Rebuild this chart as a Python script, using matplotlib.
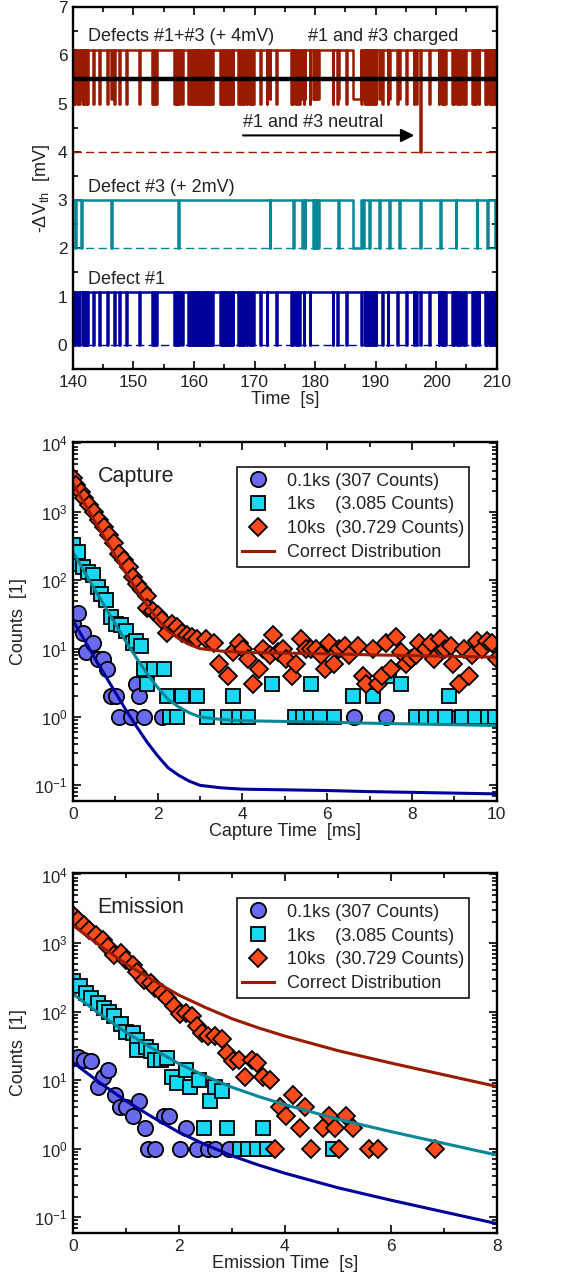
import numpy as np
import matplotlib.pyplot as plt
from matplotlib.ticker import MultipleLocator, LogLocator, NullFormatter

plt.rcParams['font.family'] = ['Liberation Sans', 'DejaVu Sans']
plt.rcParams['mathtext.fontset'] = 'custom'
plt.rcParams['mathtext.rm'] = 'Liberation Sans'
plt.rcParams['mathtext.it'] = 'Liberation Sans:italic'
plt.rcParams['mathtext.bf'] = 'Liberation Sans:bold'
plt.rcParams['text.color'] = '#222222'
plt.rcParams['axes.labelcolor'] = '#222222'

# ---------------- RTN traces (top) ----------------
T_START, T_END = 140.0, 210.0
D1_STEP, D3_STEP = 1.1, 1.0          # step heights [mV]
D3_OFFSET, SUM_OFFSET = 2.0, 4.0     # vertical offsets used for display
THRESHOLD = 5.5
D1_DWELL = 0.12                      # typical neutral dwell of defect #1 [s]

# defect #1 goes neutral at these times
d1_starts = [140.1, 140.25, 140.7, 141.0, 141.6, 141.8, 142.1, 142.4,
             143.3, 144.4, 145.7, 146.8, 147.7, 148.8, 150.9,
             153.1, 153.4, 153.7,
             156.7, 157.0, 157.2, 157.6, 158.0,
             159.1, 159.4, 159.7, 160.0, 160.3, 160.6, 160.9, 161.2, 161.5,
             161.8, 162.1, 162.4, 162.7, 163.0,
             164.3, 164.6, 164.9, 165.2, 165.5, 165.8, 166.1, 166.4,
             167.3, 167.6, 167.9, 168.3, 168.7, 169.1, 169.5, 169.8,
             170.9, 172.0, 173.6,
             176.1, 176.25, 176.7, 177.0, 177.4,
             178.1, 179.1, 182.9, 183.6, 185.1,
             187.65, 188.2, 188.5, 188.75, 189.1, 189.4, 189.7, 190.0,
             191.1, 192.0, 193.6, 195.0, 196.3, 196.7, 197.3, 198.8,
             200.4, 200.9, 201.2, 201.5,
             202.6, 202.9, 203.4, 203.6, 204.0, 204.4, 204.8,
             205.9, 206.3, 206.5, 207.0,
             208.1, 208.25, 208.7, 209.0, 209.3, 209.55, 209.9]

# defect #3 neutral intervals
d3_starts = [140.4, 141.4, 146.3, 157.4, 172.5, 176.4, 177.9, 178.3, 179.6, 179.9,
             180.2, 180.5, 183.8, 186.3, 187.9, 188.9, 190.6, 192.2, 193.9, 197.3,
             200.7, 203.2, 206.7, 208.4, 209.7]
d3_ends = [140.52, 141.52, 146.42, 157.52, 172.62, 176.52, 178.02, 178.42, 179.75, 180.05,
           180.35, 180.65, 183.92, 187.6, 188.02, 189.02, 190.72, 192.32, 194.02, 197.42,
           200.82, 203.32, 206.82, 208.52, 209.82]

# ---------------- capture / emission histograms ----------------
cap_c_x = [0.0, 0.13, 0.23, 0.31, 0.47, 0.59, 0.70, 0.80, 0.90, 1.02, 1.09, 1.37, 1.48,
           1.56, 1.68, 2.11, 6.64, 7.38, 8.87, 9.53]
cap_c_y = [23, 33, 17, 9, 12, 7, 7, 5, 2, 2, 1, 1, 3, 2, 1, 1, 1, 1, 1, 1]

cap_s_x = [0.0, 0.08, 0.12, 0.23, 0.35, 0.47, 0.59, 0.66, 0.78, 0.90, 1.02, 1.13, 1.25,
           1.41, 1.50, 1.60, 1.68, 1.76, 1.91, 2.15, 2.23, 2.58, 2.93, 3.79, 4.69, 5.63,
           6.60, 7.07, 7.46, 7.73, 8.87,
           2.30, 2.46, 3.16, 3.67, 3.91, 4.14, 5.23, 5.43, 5.63, 5.82, 6.17, 8.09, 8.32,
           8.55, 8.79, 9.18, 9.49, 9.80, 9.96]
cap_s_y = [324, 175, 260, 157, 133, 118, 80, 63, 51, 29, 23, 22, 18, 12, 13, 11, 5, 3,
           5, 5, 2, 2, 2, 2, 3, 3, 2, 2, 4, 3, 2,
           1, 1, 1, 1, 1, 1, 1, 1, 1, 1, 1, 1, 1, 1, 1, 1, 1, 1, 1]

cap_d_x = [0.0, 0.08, 0.20, 0.27, 0.39, 0.51, 0.62, 0.74, 0.86, 0.98, 1.09, 1.21, 1.33,
           1.41, 1.52, 1.64, 1.76, 1.76, 1.88, 2.00, 2.10, 2.23, 2.34, 2.46, 2.58, 2.70,
           2.81, 2.93, 3.13, 3.32, 3.44, 3.67, 3.79, 3.91, 4.02, 4.14, 4.26, 4.38, 4.49,
           4.65, 4.73, 4.84, 4.96, 5.04, 5.16, 5.27, 5.39, 5.51, 5.63, 5.74, 5.86, 5.94,
           6.05, 6.17, 6.29, 6.41, 6.52, 6.72, 6.84, 6.91, 7.07, 7.19, 7.30, 7.38, 7.50,
           7.62, 7.73, 7.85, 7.97, 8.09, 8.16, 8.32, 8.44, 8.52, 8.67, 8.79, 8.91, 8.98,
           9.10, 9.22, 9.34, 9.41, 9.53, 9.65, 9.77, 9.88, 10.0]
cap_d_y = [3090, 2455, 1950, 1585, 1260, 1000, 760, 600, 457, 347, 245, 195, 158,
           112, 89, 71, 58, 39, 36, 31, 26, 17, 23, 21, 17, 16,
           15, 14, 14, 12, 6, 4, 9, 12, 10, 7, 3, 5, 10,
           8, 16, 9, 10, 7, 4, 6, 14, 10, 10, 10, 8, 5,
           12, 6, 10, 11, 8, 11, 4, 3, 10, 3, 4, 12, 5,
           15, 9, 6, 7, 8, 12, 10, 12, 7, 14, 10, 11, 6,
           3, 10, 4, 8, 13, 10, 13, 12, 7]

cap_fit_x = [0, 0.5, 1, 1.25, 1.5, 1.75, 2, 2.25, 2.5, 2.75, 3, 3.5, 4, 5, 6, 7, 8, 9, 10]
cap_fit_01 = [26, 7.6, 2.3, 1.27, 0.73, 0.43, 0.27, 0.18, 0.14, 0.115, 0.10, 0.092,
              0.088, 0.086, 0.084, 0.081, 0.079, 0.077, 0.075]
cap_fit_1 = [260, 76, 23, 12.7, 7.3, 4.3, 2.7, 1.8, 1.4, 1.15, 1.0, 0.92,
             0.88, 0.86, 0.84, 0.81, 0.79, 0.77, 0.75]
cap_fit_10 = [2600, 760, 230, 127, 73, 43, 27, 18, 14, 11.5, 10, 9.2,
              8.8, 8.6, 8.4, 8.1, 7.9, 7.7, 7.5]

em_c_x = [0.0, 0.10, 0.22, 0.34, 0.47, 0.56, 0.67, 0.79, 0.89, 1.00, 1.14, 1.25, 1.36,
          1.41, 1.56, 1.72, 1.81, 2.03, 2.13, 2.34, 2.56, 2.69, 2.94]
em_c_y = [21, 22, 20, 19, 8, 11, 14, 6, 4, 4, 3, 5, 2, 1, 1, 3, 3, 1, 2, 1, 1, 1, 1]

em_s_x = [0.0, 0.13, 0.25, 0.34, 0.47, 0.59, 0.69, 0.78, 0.91, 1.00, 1.13, 1.22, 1.22,
          1.38, 1.47, 1.56, 1.66, 1.78, 1.88, 1.97, 2.13, 2.22, 2.38, 2.47, 2.59, 2.69,
          2.81, 2.91, 3.16, 3.31, 3.47, 3.59, 3.66, 4.91]
em_s_y = [275, 234, 186, 158, 135, 112, 100, 85, 65, 51, 49, 39, 28, 30, 27, 20, 20, 21,
          11, 9, 14, 8, 10, 2, 5, 8, 7, 2, 1, 1, 1, 2, 1, 1]

em_d_x = [0.0, 0.09, 0.22, 0.31, 0.44, 0.56, 0.66, 0.78, 0.91, 1.00, 1.13, 1.22, 1.34,
          1.47, 1.56, 1.69, 1.78, 1.91, 2.03, 2.13, 2.25, 2.34, 2.44, 2.56, 2.69, 2.81,
          2.91, 3.03, 3.13, 3.25, 3.38, 3.47, 3.59, 3.72, 3.81, 3.91, 4.03, 4.16, 4.28,
          4.38, 4.50, 4.72, 4.84, 4.94, 5.03, 5.16, 5.28, 5.59, 5.75, 6.84]
em_d_y = [2570, 2140, 1820, 1550, 1320, 1100, 890, 675, 710, 560, 480, 380, 290, 263,
          219, 186, 158, 120, 91, 95, 85, 62, 49, 44, 44, 40, 25, 19, 20, 11, 20, 18,
          11, 10, 1, 4, 3, 6, 2, 4, 1, 2, 3, 2, 1, 3, 2, 1, 1, 1]

em_fit_x = [0, 0.5, 1, 1.5, 2, 2.5, 3, 3.5, 4, 5, 6, 7, 8]
em_fit_01 = [18.2, 9.3, 5.0, 2.9, 1.74, 1.15, 0.79, 0.58, 0.44, 0.27, 0.178, 0.12, 0.081]
em_fit_1 = [182, 93, 50, 29, 17.4, 11.5, 7.9, 5.8, 4.4, 2.7, 1.78, 1.2, 0.81]
em_fit_10 = [1820, 930, 500, 290, 174, 115, 79, 58, 44, 27, 17.8, 12, 8.1]

labels = ['0.1ks (307 Counts)', '1ks    (3.085 Counts)', '10ks  (30.729 Counts)']

C_BLUE, C_TEAL, C_RED = '#00009a', '#0a8797', '#981b00'
F_CIRC, F_SQ, F_DIA = '#6a6aee', '#19d8f4', '#ff4a1c'


def charged(t, starts, ends):
    s = np.asarray(starts)[None, :]
    e = np.asarray(ends)[None, :]
    inside = ((t[:, None] >= s) & (t[:, None] < e)).any(axis=1)
    return ~inside


def style_axes(ax):
    ax.tick_params(which='both', direction='in', top=True, right=True,
                   labelsize=12.5, width=1.2, colors='black', labelcolor='#222222')
    ax.tick_params(which='major', length=6, pad=4)
    ax.tick_params(which='minor', length=3.5)
    for sp in ax.spines.values():
        sp.set_linewidth(1.7)


fig = plt.figure(figsize=(5.69, 12.8), dpi=100)
ax1 = fig.add_axes([0.128, 0.7117, 0.745, 0.2828])
ax2 = fig.add_axes([0.128, 0.3742, 0.745, 0.2805])
ax3 = fig.add_axes([0.128, 0.0367, 0.745, 0.28125])

# ---- top: telegraph signals ----
d1_ends = np.asarray(d1_starts) + D1_DWELL
edges = np.unique(np.concatenate([[T_START, T_END], d1_starts, d1_ends, d3_starts, d3_ends]))
q1 = charged(edges, d1_starts, d1_ends)
q3 = charged(edges, d3_starts, d3_ends)
v1 = np.where(q1, D1_STEP, 0.0)
v3 = D3_OFFSET + np.where(q3, D3_STEP, 0.0)
vsum = SUM_OFFSET + np.where(q1, D1_STEP, 0.0) + np.where(q3, D3_STEP, 0.0)

for base, col in [(0.0, C_BLUE), (D3_OFFSET, C_TEAL), (SUM_OFFSET, C_RED)]:
    ax1.plot([T_START, T_END], [base, base], color=col, lw=1.0, dashes=(6, 3))
ax1.plot(edges, v1, drawstyle='steps-post', color=C_BLUE, lw=1.8)
ax1.plot(edges, v3, drawstyle='steps-post', color=C_TEAL, lw=1.8)
ax1.plot(edges, vsum, drawstyle='steps-post', color=C_RED, lw=1.8)
ax1.plot([T_START, T_END], [THRESHOLD, THRESHOLD], color='black', lw=3.2)

ax1.text(142.5, 6.38, 'Defects #1+#3 (+ 4mV)', fontsize=13, va='center')
ax1.text(178.8, 6.38, '#1 and #3 charged', fontsize=13, va='center')
ax1.text(168.1, 4.6, '#1 and #3 neutral', fontsize=13, va='center')
ax1.annotate('', xy=(196.4, 4.34), xytext=(168.1, 4.34),
             arrowprops=dict(arrowstyle='-|>', color='black', lw=1.5,
                             mutation_scale=20, shrinkA=0, shrinkB=0))
ax1.text(142.5, 3.27, 'Defect #3 (+ 2mV)', fontsize=13, va='center')
ax1.text(142.5, 1.36, 'Defect #1', fontsize=13, va='center')

ax1.set_xlim(T_START, T_END)
ax1.set_ylim(-0.5, 7)
ax1.xaxis.set_major_locator(MultipleLocator(10))
ax1.xaxis.set_minor_locator(MultipleLocator(5))
ax1.yaxis.set_major_locator(MultipleLocator(1))
ax1.yaxis.set_minor_locator(MultipleLocator(0.5))
ax1.set_xlabel('Time  [s]', fontsize=13, labelpad=1)
ax1.set_ylabel('-ΔV$_{\\rm th}$  [mV]', fontsize=13, labelpad=4)
style_axes(ax1)

# ---- capture / emission ----
def histo_panel(ax, cx, cy, sx, sy, dx, dy, fx, f01, f1, f10, xmax, xlabel, title):
    mk = dict(linestyle='none', markeredgecolor='black', markeredgewidth=1.3)
    ax.plot(cx, cy, marker='o', markersize=11, markerfacecolor=F_CIRC, label=labels[0], **mk)
    ax.plot(sx, sy, marker='s', markersize=10.3, markerfacecolor=F_SQ, label=labels[1], **mk)
    ax.plot(dx, dy, marker='D', markersize=9.3, markerfacecolor=F_DIA, label=labels[2], **mk)
    ax.plot(fx, f01, color=C_BLUE, lw=2.2)
    ax.plot(fx, f1, color=C_TEAL, lw=2.2)
    ax.plot(fx, f10, color=C_RED, lw=2.2, label='Correct Distribution')
    ax.set_yscale('log')
    ax.set_xlim(0, xmax)
    ax.set_ylim(0.059, 1.05e4)
    ax.xaxis.set_major_locator(MultipleLocator(2))
    ax.xaxis.set_minor_locator(MultipleLocator(1))
    ax.yaxis.set_major_locator(LogLocator(base=10, numticks=10))
    ax.yaxis.set_minor_locator(LogLocator(base=10, subs=np.arange(2, 10), numticks=10))
    ax.yaxis.set_minor_formatter(NullFormatter())
    ax.set_xlabel(xlabel, fontsize=13, labelpad=1)
    ax.set_ylabel('Counts  [1]', fontsize=13, labelpad=5)
    ax.text(0.058, 0.905, title, transform=ax.transAxes, fontsize=15.5, va='center')
    leg = ax.legend(loc='upper left', bbox_to_anchor=(0.387, 0.93), borderaxespad=0,
                    fontsize=13, numpoints=1, handlelength=1.75, handletextpad=0.7,
                    borderpad=0.3, labelspacing=0.38, fancybox=False, framealpha=1)
    leg.get_frame().set_edgecolor('black')
    leg.get_frame().set_linewidth(1.1)
    style_axes(ax)
    ax.tick_params(axis='y', labelsize=12)


histo_panel(ax2, cap_c_x, cap_c_y, cap_s_x, cap_s_y, cap_d_x, cap_d_y,
            cap_fit_x, cap_fit_01, cap_fit_1, cap_fit_10, 10, 'Capture Time  [ms]', 'Capture')
histo_panel(ax3, em_c_x, em_c_y, em_s_x, em_s_y, em_d_x, em_d_y,
            em_fit_x, em_fit_01, em_fit_1, em_fit_10, 8, 'Emission Time  [s]', 'Emission')

fig.savefig('out.png', dpi=100)
